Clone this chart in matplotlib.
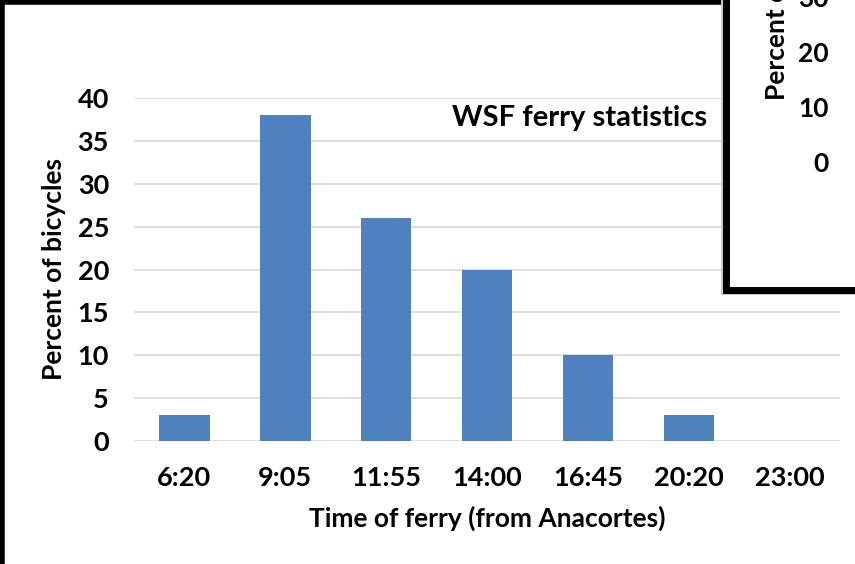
import numpy as np
import matplotlib.pyplot as plt
from matplotlib.patches import Rectangle
from matplotlib.lines import Line2D

plt.rcParams['font.family'] = ['Lato', 'DejaVu Sans']
plt.rcParams['font.weight'] = 'bold'

# ferry departures and share of bicycles
times = ['6:20', '9:05', '11:55', '14:00', '16:45', '20:20', '23:00']
percent = [3, 38, 26, 20, 10, 3, 0]
y_ticks = [0, 5, 10, 15, 20, 25, 30, 35, 40]
inset_ticks = [0, 10, 20, 30]

W, H = 855, 564
fig = plt.figure(figsize=(W / 100, H / 100), dpi=100)
fig.patch.set_facecolor('white')

# main chart
ax = fig.add_axes([134 / W, 123 / H, 706 / W, 343 / H])
x = np.arange(len(times))
ax.bar(x, percent, width=0.5, color='#4F81BD', zorder=3)
ax.set_xlim(-0.5, len(times) - 0.5)
ax.set_ylim(0, 40)
ax.set_yticks(y_ticks)
ax.set_xticks(x)
ax.set_xticklabels(times)
ax.yaxis.grid(True, color='#D9D9D9', linewidth=1.2, zorder=0)
for s in ax.spines.values():
    s.set_visible(False)
ax.tick_params(axis='both', length=0, labelsize=19.5)
ax.tick_params(axis='y', pad=18)
ax.tick_params(axis='x', pad=18)
ax.set_xlabel('Time of ferry (from Anacortes)', fontsize=19, fontweight='bold', labelpad=11)
ax.set_ylabel('Percent of bicycles', fontsize=19, fontweight='bold', labelpad=8)
fig.text(707 / W, 1 - 118 / H, 'WSF ferry statistics', ha='right', va='center',
         fontsize=21, fontweight='bold')

# outer frame edges of the screenshot
fig.add_artist(Line2D([2 / W, 2 / W], [0, 1], color='black', linewidth=4,
                      transform=fig.transFigure))
fig.add_artist(Line2D([0, 1], [1 - 2 / H, 1 - 2 / H], color='black', linewidth=4,
                      transform=fig.transFigure))

# overlapping second chart in the corner
fig.add_artist(Rectangle((721 / W, 1 - 295 / H), 200 / W, 320 / H, transform=fig.transFigure,
                         facecolor='#C8C8C8', edgecolor='none', zorder=5))
fig.add_artist(Rectangle((726 / W, 1 - 290 / H), 200 / W, 320 / H, transform=fig.transFigure,
                         facecolor='white', edgecolor='black', linewidth=5, zorder=6))
ax2 = fig.add_axes([1.0, 374.5 / H, 0.4, 220 / H], zorder=7)
ax2.set_ylim(-5, 35)
ax2.set_yticks(inset_ticks)
ax2.patch.set_visible(False)
for s in ax2.spines.values():
    s.set_visible(False)
ax2.set_xticks([])
ax2.tick_params(axis='y', length=0, labelsize=19, pad=19)
fig.text(777 / W, 1 - 100 / H, 'Percent of bicycles', rotation=90, ha='center', va='bottom',
         fontsize=19, fontweight='bold', zorder=8)

fig.savefig('out.png', dpi=100)
